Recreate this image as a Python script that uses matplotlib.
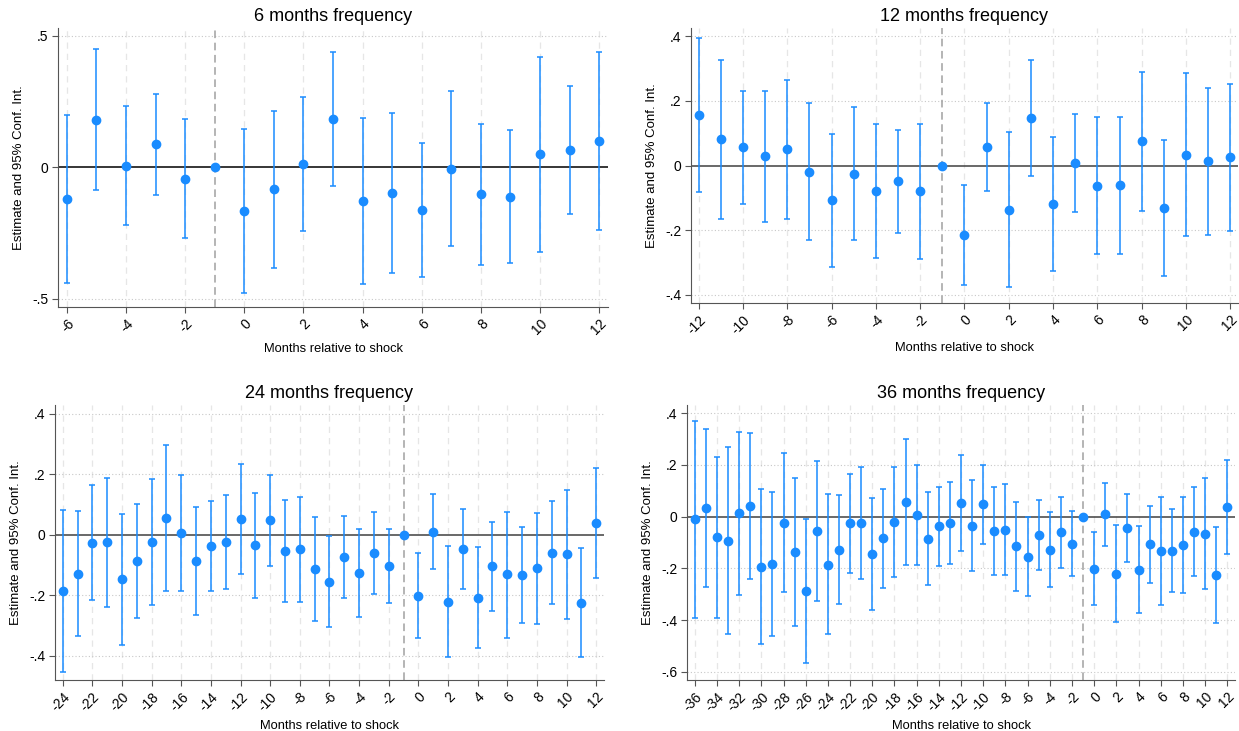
import numpy as np
import matplotlib
matplotlib.use("Agg")
import matplotlib.pyplot as plt
from matplotlib.ticker import FuncFormatter

plt.rcParams['font.family'] = ['Liberation Sans', 'DejaVu Sans']

# 6 months frequency
m6 = list(range(-6, 13))
est6 = [-0.121, 0.181, 0.006, 0.088, -0.043, 0.0, -0.165, -0.084, 0.013, 0.184,
        -0.128, -0.098, -0.162, -0.005, -0.103, -0.112, 0.049, 0.066, 0.099]
hi6 = [0.197, 0.450, 0.232, 0.280, 0.184, 0.0, 0.145, 0.214, 0.266, 0.440,
       0.187, 0.207, 0.094, 0.291, 0.166, 0.140, 0.421, 0.310, 0.438]
lo6 = [-0.439, -0.088, -0.221, -0.107, -0.269, 0.0, -0.477, -0.382, -0.241, -0.070,
       -0.443, -0.402, -0.418, -0.299, -0.373, -0.364, -0.324, -0.178, -0.240]

# 12 months frequency
m12 = list(range(-12, 13))
est12 = [0.156, 0.081, 0.056, 0.029, 0.050, -0.019, -0.108, -0.025, -0.079, -0.049, -0.080, 0.0,
         -0.215, 0.057, -0.136, 0.146, -0.118, 0.008, -0.062, -0.061, 0.075, -0.132, 0.033, 0.013, 0.025]
hi12 = [0.395, 0.328, 0.231, 0.231, 0.266, 0.195, 0.097, 0.182, 0.128, 0.109, 0.129, 0.0,
        -0.059, 0.192, 0.105, 0.327, 0.089, 0.159, 0.150, 0.150, 0.289, 0.079, 0.286, 0.241, 0.253]
lo12 = [-0.083, -0.166, -0.120, -0.174, -0.166, -0.231, -0.313, -0.229, -0.285, -0.207, -0.288, 0.0,
        -0.370, -0.078, -0.376, -0.032, -0.326, -0.143, -0.275, -0.272, -0.139, -0.343, -0.219, -0.214, -0.202]

# 24 months frequency
m24 = list(range(-24, 13))
est24 = [-0.187, -0.129, -0.026, -0.025, -0.147, -0.086, -0.023, 0.056, 0.005, -0.086, -0.037,
         -0.024, 0.052, -0.034, 0.047, -0.055, -0.048, -0.112, -0.155, -0.073, -0.126, -0.060, -0.104, 0.0,
         -0.201, 0.010, -0.222, -0.047, -0.208, -0.105, -0.131, -0.132, -0.111, -0.059, -0.065, -0.225, 0.038]
hi24 = [0.080, 0.079, 0.163, 0.186, 0.067, 0.102, 0.185, 0.297, 0.196, 0.092, 0.112,
        0.130, 0.233, 0.138, 0.198, 0.114, 0.124, 0.059, -0.004, 0.063, 0.019, 0.074, 0.019, 0.0,
        -0.060, 0.133, -0.038, 0.084, -0.042, 0.041, 0.076, 0.027, 0.073, 0.110, 0.147, -0.044, 0.219]
lo24 = [-0.454, -0.335, -0.215, -0.238, -0.363, -0.274, -0.232, -0.186, -0.185, -0.264, -0.187,
        -0.180, -0.130, -0.208, -0.103, -0.223, -0.221, -0.284, -0.304, -0.209, -0.271, -0.195, -0.227, 0.0,
        -0.342, -0.113, -0.405, -0.179, -0.375, -0.253, -0.340, -0.291, -0.295, -0.229, -0.277, -0.405, -0.142]

# 36 months frequency
m36 = list(range(-36, 13))
est36 = [-0.010, 0.035, -0.080, -0.094, 0.013, 0.041, -0.193, -0.181, -0.023, -0.138, -0.288, -0.055, -0.185,
         -0.127, -0.024, -0.024, -0.145, -0.084, -0.022, 0.057, 0.006, -0.085, -0.036, -0.023, 0.051, -0.036,
         0.048, -0.057, -0.050, -0.114, -0.154, -0.072, -0.127, -0.060, -0.104, 0.0,
         -0.202, 0.010, -0.220, -0.044, -0.206, -0.107, -0.131, -0.131, -0.109, -0.058, -0.066, -0.225, 0.037]
hi36 = [0.368, 0.340, 0.230, 0.268, 0.327, 0.323, 0.107, 0.096, 0.247, 0.150, -0.010, 0.214, 0.086,
        0.085, 0.166, 0.190, 0.071, 0.107, 0.190, 0.301, 0.199, 0.094, 0.116, 0.135, 0.237, 0.140,
        0.198, 0.113, 0.125, 0.058, -0.001, 0.063, 0.018, 0.075, 0.021, 0.0,
        -0.060, 0.132, -0.033, 0.088, -0.036, 0.041, 0.077, 0.030, 0.077, 0.113, 0.148, -0.040, 0.220]
lo36 = [-0.390, -0.270, -0.390, -0.455, -0.301, -0.239, -0.491, -0.462, -0.293, -0.424, -0.567, -0.324, -0.455,
        -0.338, -0.216, -0.239, -0.361, -0.274, -0.234, -0.186, -0.186, -0.264, -0.189, -0.183, -0.134, -0.211,
        -0.104, -0.226, -0.224, -0.287, -0.305, -0.206, -0.273, -0.197, -0.228, 0.0,
        -0.343, -0.113, -0.406, -0.176, -0.374, -0.255, -0.340, -0.292, -0.296, -0.230, -0.280, -0.412, -0.144]

panels = [
    ("6 months frequency", m6, est6, lo6, hi6, [0.0468, 0.580, 0.444, 0.3817],
     (-6.3, 12.3), (-0.532, 0.53), [-0.5, 0, 0.5], '#000000'),
    ("12 months frequency", m12, est12, lo12, hi12, [0.5577, 0.5855, 0.4415, 0.376],
     (-12.35, 12.35), (-0.425, 0.425), [-0.4, -0.2, 0, 0.2, 0.4], '#404040'),
    ("24 months frequency", m24, est24, lo24, hi24, [0.0444, 0.0698, 0.443, 0.376],
     (-24.52, 12.52), (-0.48, 0.428), [-0.4, -0.2, 0, 0.2, 0.4], '#404040'),
    ("36 months frequency", m36, est36, lo36, hi36, [0.5545, 0.0698, 0.4423, 0.376],
     (-36.7, 12.7), (-0.631, 0.431), [-0.6, -0.4, -0.2, 0, 0.2, 0.4], '#404040'),
]

blue = '#1a8cff'


def stata_fmt(v, pos):
    if abs(v) < 1e-9:
        return '0'
    return ('%g' % v).replace('0.', '.')


fig = plt.figure(figsize=(12.39, 7.31), dpi=100)

for title, x, est, lo, hi, rect, xl, yl, yt, zc in panels:
    ax = fig.add_axes(rect)
    x = np.array(x)
    est = np.array(est)
    lo = np.array(lo)
    hi = np.array(hi)
    xt = [v for v in x if v % 2 == 0]

    for v in xt:
        ax.axvline(v, color='#e6e6e6', lw=0.9, ls=(0, (5, 4)), zorder=0)
    for v in yt:
        if v != 0:
            ax.axhline(v, color='#c8c8c8', lw=0.8, ls=(0, (1, 2)), zorder=0)
    ax.axhline(0, color=zc, lw=1.1, zorder=1)
    ax.axvline(-1, color='#a0a0a0', lw=1.1, ls=(0, (5, 3)), zorder=1)

    ax.errorbar(x, est, yerr=[est - lo, hi - est], fmt='o', color=blue, ecolor=blue,
                elinewidth=1.1, capsize=2.2, capthick=1.1, markersize=6, zorder=3)

    ax.set_xlim(*xl)
    ax.set_ylim(*yl)
    ax.set_xticks(xt)
    ax.set_xticklabels([str(v) for v in xt], rotation=45, ha='right', rotation_mode='anchor')
    ax.set_yticks(yt)
    ax.yaxis.set_major_formatter(FuncFormatter(stata_fmt))
    ax.tick_params(labelsize=10, color='#555555', length=4, pad=3)
    ax.spines['top'].set_visible(False)
    ax.spines['right'].set_visible(False)
    ax.spines['left'].set_color('#555555')
    ax.spines['bottom'].set_color('#555555')
    ax.set_title(title, fontsize=13, pad=5)
    ax.set_xlabel("Months relative to shock", fontsize=9.3, labelpad=4)
    ax.set_ylabel("Estimate and 95% Conf. Int.", fontsize=9.5, labelpad=5)

fig.savefig("out.png", dpi=100)
